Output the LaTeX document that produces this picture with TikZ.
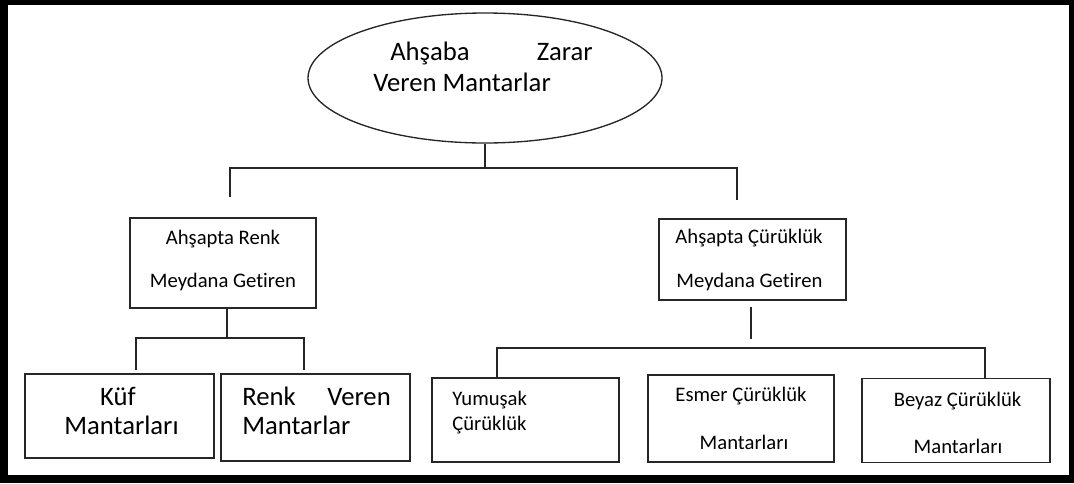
\documentclass[tikz,border=0pt]{standalone}
\usepackage{fontspec}
\setmainfont{Carlito}[Ligatures=NoCommon]
\usetikzlibrary{shapes.geometric}
\begin{document}
\begin{tikzpicture}[x=0.75pt,y=-0.75pt,
  conn/.style={draw=black!85, line width=1pt},
  box/.style={draw=black!85, line width=1pt, rectangle, inner sep=0pt},
  bigtxt/.style={font=\fontsize{20}{24}\selectfont, anchor=base, inner sep=0pt},
  smalltxt/.style={font=\fontsize{15.5}{18}\selectfont, anchor=base, inner sep=0pt}]
% frame
\fill[black] (0,0) rectangle (1074,483);
\fill[white] (8,5) rectangle (1069,475);
\useasboundingbox (0,0) rectangle (1074,483);
% top ellipse
\node[ellipse, draw=black!85, line width=1pt, minimum width=265.5pt, minimum height=97.5pt, inner sep=0pt] (ell) at (485,78) {};
\node[bigtxt, anchor=base west] (t1) at (390,60) {Ahşaba};
\node[bigtxt, anchor=base east] (t2) at (593,60) {Zarar};
\node[bigtxt, anchor=base west] (t3) at (373,91) {Veren Mantarlar};
% second level boxes
\node[box, minimum width=139.5pt, minimum height=67.5pt] (b1) at (223,263) {};
\node[smalltxt] (b1a) at (223,244) {Ahşapta Renk};
\node[smalltxt] (b1b) at (223,287) {Meydana Getiren};
\node[box, minimum width=140.25pt, minimum height=60.75pt] (b2) at (752.5,259.5) {};
\node[smalltxt] (b2a) at (749,243) {Ahşapta Çürüklük};
\node[smalltxt] (b2b) at (749.5,287) {Meydana Getiren};
% bottom boxes
\node[box, minimum width=141.75pt, minimum height=63pt] (k) at (119.5,416) {};
\node[bigtxt] (ka) at (118,405) {Küf};
\node[bigtxt] (kb) at (121.5,434) {Mantarları};
\node[box, minimum width=141.75pt, minimum height=65.25pt] (r) at (315.5,417.5) {};
\node[bigtxt, anchor=base west] (ra) at (242,405) {Renk};
\node[bigtxt, anchor=base east] (rb) at (391,405) {Veren};
\node[bigtxt, anchor=base west] (rc) at (242,434) {Mantarlar};
\node[box, minimum width=140.25pt, minimum height=63pt] (y) at (525.5,420) {};
\node[smalltxt, anchor=base west] (ya) at (452,405) {Yumuşak};
\node[smalltxt, anchor=base west] (yb) at (452,430) {Çürüklük};
\node[box, minimum width=139.5pt, minimum height=65.25pt] (e) at (741,418.5) {};
\node[smalltxt] (ea) at (741,401) {Esmer Çürüklük};
\node[smalltxt] (eb) at (744,449) {Mantarları};
\node[box, minimum width=141pt, minimum height=63pt] (bz) at (956,420.5) {};
\node[smalltxt] (bza) at (957.5,406) {Beyaz Çürüklük};
\node[smalltxt] (bzb) at (958,453) {Mantarları};
% connectors level 1
\coordinate (h1) at (485,168);
\coordinate (l1) at (230,197);
\coordinate (r1) at (737,200);
\draw[conn] (ell.south) -- (h1);
\draw[conn] (l1) |- (h1) -| (r1);
% connectors left subtree
\coordinate (h2) at (227,338);
\coordinate (k1) at (136,370);
\coordinate (r2) at (304,370);
\draw[conn] (b1.south -| h2) -- (h2);
\draw[conn] (k1) |- (h2) -| (r2);
% connectors right subtree
\coordinate (v3a) at (751,307);
\coordinate (v3b) at (751,339);
\draw[conn] (v3a) -- (v3b);
\coordinate (h3a) at (497,348);
\coordinate (h3b) at (985,348);
\draw[conn] (y.north -| h3a) -- (h3a) -- (h3b) -- (bz.north -| h3b);
\end{tikzpicture}
\end{document}
